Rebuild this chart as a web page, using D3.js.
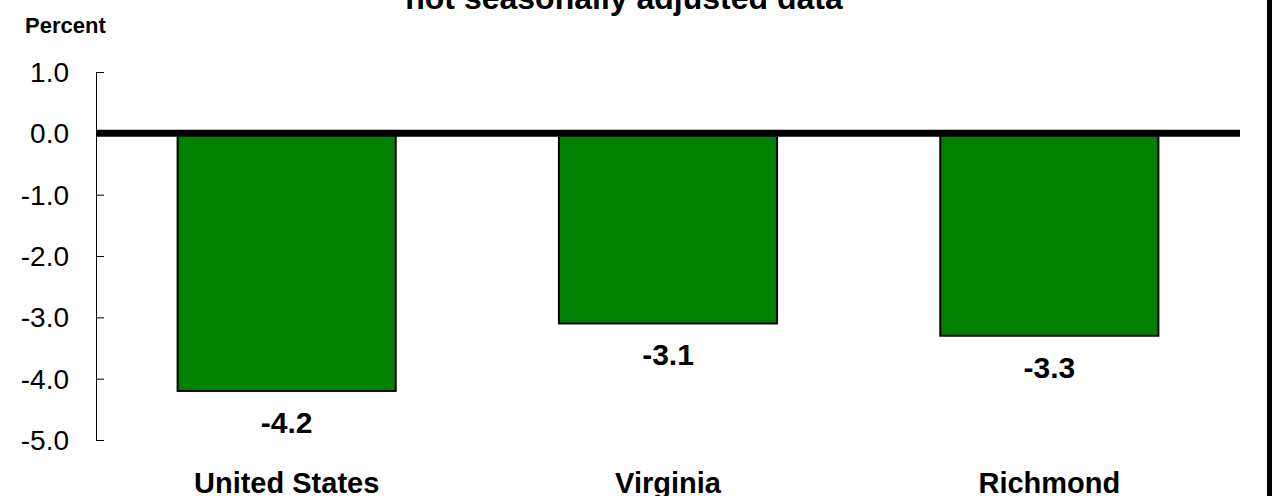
<!DOCTYPE html>
<html>
<head>
<meta charset="utf-8">
<script src="https://cdn.jsdelivr.net/npm/d3@7"></script>
<style>
  body { margin: 0; background: #fff; }
  svg { display: block; font-family: "Liberation Sans", Arial, sans-serif; }
</style>
</head>
<body>
<script>
var categories = ["United States", "Virginia", "Richmond"];
var values = [-4.2, -3.1, -3.3];
var yTicks = [1, 0, -1, -2, -3, -4, -5];

var width = 1276, height = 496;
// plot area (window.top is reserved, so no "top" here)
var plotLeft = 96, plotRight = 1240, plotTop = 72, plotBottom = 440;

var svg = d3.select("body").append("svg")
  .attr("width", width)
  .attr("height", height);

svg.append("rect")
  .attr("width", width)
  .attr("height", height)
  .style("fill", "#fff");

var x = d3.scaleBand()
  .domain(categories)
  .range([plotLeft, plotRight])
  .paddingInner(0.428)
  .paddingOuter(0.214);

var y = d3.scaleLinear().domain([1, -5]).range([plotTop, plotBottom]);

// title (only the tail line shows at the top)
svg.append("text")
  .attr("x", 624)
  .attr("y", 9)
  .attr("text-anchor", "middle")
  .style("font-size", "32px")
  .style("font-weight", "bold")
  .text("not seasonally adjusted data");

svg.append("text")
  .attr("x", 25)
  .attr("y", 33)
  .style("font-size", "22px")
  .style("font-weight", "bold")
  .text("Percent");

// y axis, ticks pointing inward
var yAxis = d3.axisRight(y)
  .tickValues(yTicks)
  .tickSize(8)
  .tickFormat("");

var ax = svg.append("g")
  .attr("transform", "translate(" + plotLeft + ",0)")
  .call(yAxis);
ax.select(".domain").attr("d", "M0.5," + plotTop + "V" + plotBottom).style("stroke", "#000");
ax.selectAll(".tick line").style("stroke", "#000");

svg.selectAll(".ylab")
  .data(yTicks)
  .enter()
  .append("text")
  .attr("class", "ylab")
  .attr("x", 69)
  .attr("y", function(d) { return y(d) + 10; })
  .attr("text-anchor", "end")
  .style("font-size", "28px")
  .text(function(d) { return d.toFixed(1); });

svg.selectAll(".bar")
  .data(values)
  .enter()
  .append("rect")
  .attr("class", "bar")
  .attr("x", function(d, i) { return x(categories[i]); })
  .attr("y", y(0))
  .attr("width", x.bandwidth())
  .attr("height", function(d) { return y(d) - y(0); })
  .style("fill", "#008000")
  .style("stroke", "#000")
  .style("stroke-width", 2);

// zero line
svg.append("line")
  .attr("x1", plotLeft)
  .attr("x2", plotRight)
  .attr("y1", y(0))
  .attr("y2", y(0))
  .style("stroke", "#000")
  .style("stroke-width", 7);

svg.selectAll(".vlab")
  .data(values)
  .enter()
  .append("text")
  .attr("class", "vlab")
  .attr("x", function(d, i) { return x(categories[i]) + x.bandwidth() / 2; })
  .attr("y", function(d) { return y(d) + 42; })
  .attr("text-anchor", "middle")
  .style("font-size", "30px")
  .style("font-weight", "bold")
  .text(function(d) { return d.toFixed(1); });

svg.selectAll(".clab")
  .data(categories)
  .enter()
  .append("text")
  .attr("class", "clab")
  .attr("x", function(d) { return x(d) + x.bandwidth() / 2; })
  .attr("y", 493)
  .attr("text-anchor", "middle")
  .style("font-size", "29px")
  .style("font-weight", "bold")
  .text(function(d) { return d; });

// frame edge on the right
svg.append("rect")
  .attr("x", 1267)
  .attr("y", 0)
  .attr("width", 5)
  .attr("height", height)
  .style("fill", "#000");
</script>
</body>
</html>
